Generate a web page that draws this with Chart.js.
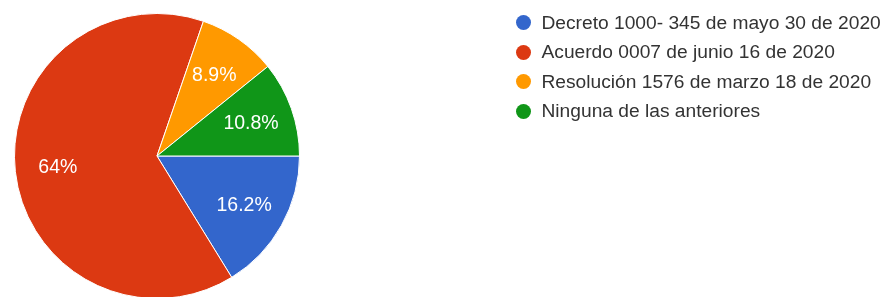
<!DOCTYPE html>
<html>
<head>
<meta charset="utf-8">
<script src="https://cdn.jsdelivr.net/npm/chart.js@4"></script>
<style>
  html, body { margin: 0; padding: 0; background: #fff; overflow: hidden; }
  #wrap { position: relative; width: 885px; height: 300px; }
  #legend { position: absolute; left: 516px; top: 8px; list-style: none; margin: 0; padding: 0;
    font-family: "Liberation Sans", Arial, sans-serif; font-size: 19.2px; color: #333; }
  #legend li { height: 29.5px; display: flex; align-items: center; white-space: nowrap; }
  #legend .dot { width: 15px; height: 15px; border-radius: 50%; margin-right: 10.5px; flex: none; }
</style>
</head>
<body>
<div id="wrap">
  <canvas id="pieChart" width="885" height="300"></canvas>
  <ul id="legend"></ul>
</div>
<script>
// Answer options and share of responses (%)
const labels = [
  "Decreto 1000- 345 de mayo 30 de 2020",
  "Acuerdo 0007 de junio 16 de 2020",
  "Resolución 1576 de marzo 18 de 2020",
  "Ninguna de las anteriores"
];
const shares = [16.2, 64, 8.9, 10.8];
const colors = ["#3366cc", "#dc3912", "#ff9900", "#109618"];

// Legend built from the same arrays
const legend = document.getElementById("legend");
labels.forEach((name, i) => {
  const li = document.createElement("li");
  const dot = document.createElement("span");
  dot.className = "dot";
  dot.style.background = colors[i];
  li.appendChild(dot);
  li.appendChild(document.createTextNode(name));
  legend.appendChild(li);
});

// Percent labels inside each slice
const sliceLabels = {
  id: "sliceLabels",
  afterDatasetsDraw(chart) {
    const ctx = chart.ctx;
    const meta = chart.getDatasetMeta(0);
    ctx.save();
    ctx.fillStyle = "#fff";
    ctx.font = "19.5px 'Liberation Sans', Arial, sans-serif";
    ctx.textAlign = "center";
    ctx.textBaseline = "middle";
    meta.data.forEach((arc, i) => {
      const mid = (arc.startAngle + arc.endAngle) / 2;
      const r = arc.outerRadius * 0.70;
      ctx.fillText(shares[i] + "%", arc.x + Math.cos(mid) * r, arc.y + Math.sin(mid) * r + 1);
    });
    ctx.restore();
  }
};

const ctx = document.getElementById("pieChart").getContext("2d");
const pieChart = new Chart(ctx, {
  type: "pie",
  data: {
    labels: labels,
    datasets: [
      {
        data: shares,
        backgroundColor: colors,
        borderColor: "#fff",
        borderWidth: 1,
      },
    ],
  },
  options: {
    responsive: false,
    animation: false,
    rotation: 90,
    layout: { padding: { left: 14, top: 13, right: 585, bottom: 1 } },
    plugins: {
      legend: { display: false },
      tooltip: { enabled: false },
    },
  },
  plugins: [sliceLabels],
});
</script>
</body>
</html>
